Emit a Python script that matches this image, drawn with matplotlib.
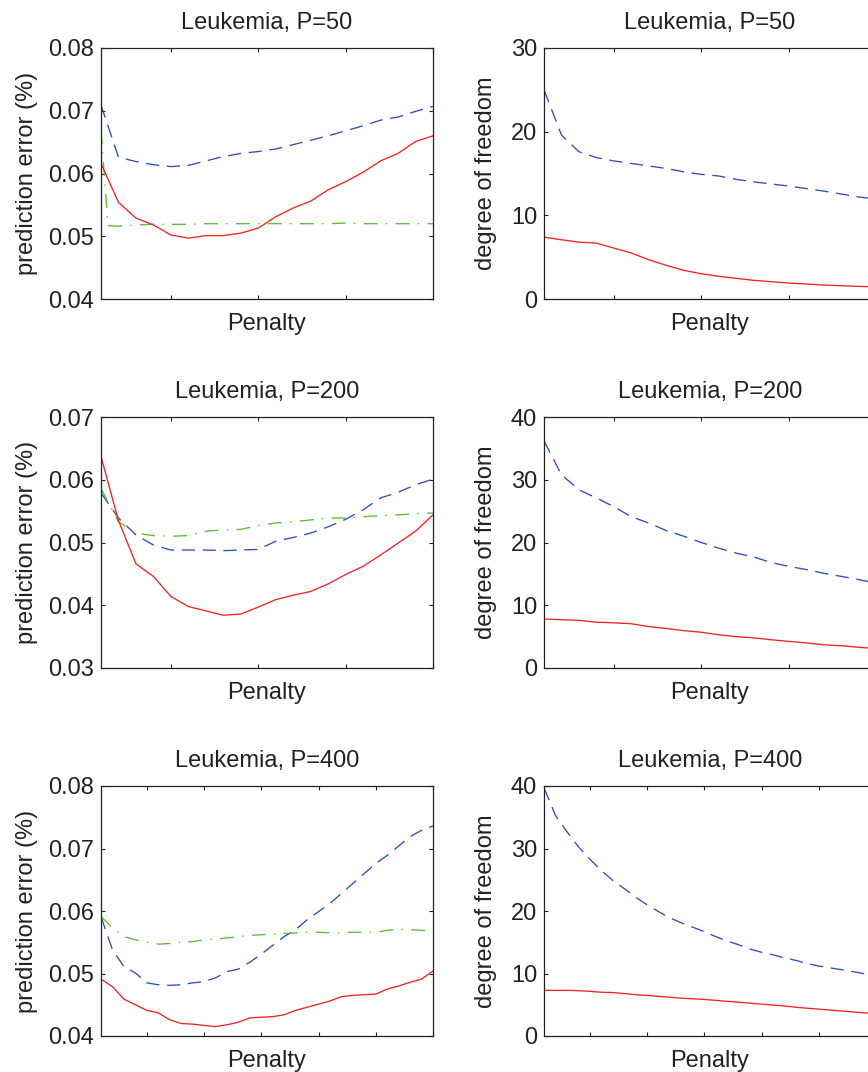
import matplotlib
matplotlib.use("Agg")
import matplotlib.pyplot as plt

plt.rcParams["font.family"] = ["Liberation Sans", "DejaVu Sans"]
plt.rcParams["font.size"] = 17
plt.rcParams["lines.scale_dashes"] = False

# penalty grids
PEN_A = [0.2, 0.4, 0.6, 0.8, 1.0, 1.2, 1.4, 1.6, 1.8, 2.0,
         2.2, 2.4, 2.6, 2.8, 3.0, 3.2, 3.4, 3.6, 3.8, 4.0]
PEN_A_GREEN = [0.2, 0.28, 0.4, 0.6, 0.8, 1.0, 1.2, 1.4, 1.6, 1.8, 2.0,
               2.2, 2.4, 2.6, 2.8, 3.0, 3.2, 3.4, 3.6, 3.8, 4.0]
PEN_B = [0.2, 0.4, 0.6, 0.8, 1.0, 1.2, 1.4, 1.6, 1.8, 2.0,
         2.2, 2.4, 2.6, 2.8, 3.0, 3.2, 3.4, 3.6, 3.8, 4.0,
         4.2, 4.4, 4.6, 4.8, 5.0, 5.2, 5.4, 5.6, 5.8, 6.0]

# P=50 prediction error
pe50_red = [0.0616, 0.0554, 0.0529, 0.0518, 0.0502, 0.0497, 0.0501, 0.0501, 0.0505, 0.0513,
            0.0531, 0.0545, 0.0556, 0.0574, 0.0587, 0.0602, 0.0620, 0.0632, 0.0651, 0.0660]
pe50_blue = [0.0709, 0.0626, 0.0619, 0.0614, 0.0611, 0.0613, 0.0620, 0.0627, 0.0632, 0.0635,
             0.0639, 0.0646, 0.0653, 0.0660, 0.0668, 0.0676, 0.0685, 0.0690, 0.0699, 0.0707]
pe50_green = [0.0669, 0.0517, 0.0516, 0.0518, 0.0519, 0.0519, 0.0519, 0.0520, 0.0520, 0.0520, 0.0520,
              0.0520, 0.0520, 0.0520, 0.0520, 0.0521, 0.0520, 0.0520, 0.0520, 0.0520, 0.0520]

# P=200 prediction error
pe200_red = [0.0637, 0.0535, 0.0466, 0.0446, 0.0414, 0.0398, 0.0391, 0.0384, 0.0386, 0.0397,
             0.0409, 0.0416, 0.0422, 0.0434, 0.0449, 0.0462, 0.0480, 0.0499, 0.0518, 0.0544]
pe200_blue = [0.0579, 0.0539, 0.0512, 0.0496, 0.0488, 0.0488, 0.0488, 0.0487, 0.0488, 0.0489,
              0.0502, 0.0508, 0.0515, 0.0525, 0.0537, 0.0552, 0.0571, 0.0580, 0.0592, 0.0601]
pe200_green = [0.0586, 0.0533, 0.0515, 0.0511, 0.0510, 0.0511, 0.0518, 0.0520, 0.0521, 0.0527,
               0.0531, 0.0533, 0.0536, 0.0539, 0.0539, 0.0541, 0.0543, 0.0544, 0.0546, 0.0547]

# P=400 prediction error
pe400_red = [0.0491, 0.0479, 0.0459, 0.0450, 0.0441, 0.0437, 0.0426, 0.0420, 0.0419, 0.0417,
             0.0415, 0.0418, 0.0422, 0.0429, 0.0430, 0.0431, 0.0434, 0.0441, 0.0446, 0.0451,
             0.0456, 0.0463, 0.0465, 0.0466, 0.0467, 0.0475, 0.0480, 0.0486, 0.0491, 0.0504]
pe400_blue = [0.0591, 0.0538, 0.0511, 0.0501, 0.0485, 0.0482, 0.0481, 0.0482, 0.0485, 0.0487,
              0.0493, 0.0503, 0.0507, 0.0518, 0.0531, 0.0545, 0.0559, 0.0570, 0.0586, 0.0599,
              0.0612, 0.0628, 0.0644, 0.0660, 0.0676, 0.0689, 0.0704, 0.0719, 0.0729, 0.0736]
pe400_green = [0.0591, 0.0573, 0.0559, 0.0554, 0.0550, 0.0547, 0.0548, 0.0550, 0.0551, 0.0554,
               0.0555, 0.0557, 0.0559, 0.0561, 0.0562, 0.0563, 0.0564, 0.0565, 0.0566, 0.0566,
               0.0565, 0.0565, 0.0566, 0.0566, 0.0566, 0.0569, 0.0571, 0.0570, 0.0569, 0.0568]

# degrees of freedom
df50_red = [7.39, 7.08, 6.80, 6.68, 6.08, 5.49, 4.69, 4.02, 3.42, 3.02,
            2.71, 2.47, 2.23, 2.07, 1.91, 1.79, 1.67, 1.59, 1.51, 1.45]
df50_blue = [25.0, 19.6, 17.6, 16.9, 16.5, 16.2, 15.9, 15.6, 15.2, 14.9,
             14.7, 14.3, 14.0, 13.75, 13.5, 13.2, 12.9, 12.55, 12.2, 11.95]
df200_red = [7.8, 7.7, 7.6, 7.3, 7.2, 7.05, 6.6, 6.3, 5.95, 5.7,
             5.3, 5.0, 4.8, 4.5, 4.25, 4.0, 3.7, 3.55, 3.3, 3.1]
df200_blue = [36.2, 30.8, 28.4, 27.1, 25.7, 24.1, 23.1, 21.9, 21.0, 20.0,
              19.1, 18.3, 17.7, 16.8, 16.2, 15.7, 15.1, 14.6, 14.1, 13.5]
df400_red = [7.3, 7.3, 7.3, 7.25, 7.15, 7.0, 6.95, 6.8, 6.6, 6.5,
             6.35, 6.2, 6.05, 5.95, 5.85, 5.7, 5.55, 5.4, 5.25, 5.1,
             4.95, 4.8, 4.6, 4.45, 4.3, 4.15, 4.0, 3.85, 3.7, 3.6]
df400_blue = [39.7, 35.3, 32.7, 30.3, 28.3, 26.5, 24.9, 23.6, 22.2, 21.0,
              19.9, 18.9, 18.1, 17.4, 16.7, 15.9, 15.2, 14.6, 13.9, 13.4,
              13.0, 12.5, 12.1, 11.6, 11.2, 10.9, 10.6, 10.3, 9.95, 9.65]

RED = "#ee2424"
BLUE = "#2c50b4"
GREEN = "#5cbd2c"
INK = "#222222"
LW = 0.95

W, H = 868, 1072
fig = plt.figure(figsize=(W / 100, H / 100), dpi=100)


def make_axes(left, top, bottom):
    return fig.add_axes([left / W, (H - bottom) / H, 332 / W, (bottom - top) / H])


def style(ax, title, ylabel, xlim, xticks, ylim, yticks, fmt, labelpad):
    ax.set_xlim(*xlim)
    ax.set_ylim(*ylim)
    ax.set_xticks(xticks)
    ax.set_xticklabels([])
    ax.set_yticks(yticks)
    ax.set_yticklabels([fmt.format(v) for v in yticks])
    ax.tick_params(direction="in", length=3, width=0.8, top=True, right=True,
                   colors=INK, labelsize=17, pad=5.0)
    for s in ax.spines.values():
        s.set_linewidth(0.9)
        s.set_color(INK)
    ax.set_title(title, pad=13.5, fontsize=17, color=INK)
    ax.set_ylabel(ylabel, labelpad=labelpad, color=INK)
    ax.set_xlabel("Penalty", labelpad=5, color=INK)


def red(ax, x, y):
    ax.plot(x, y, color=RED, lw=LW)


def blue(ax, x, y):
    ax.plot(x, y, color=BLUE, lw=LW, dashes=(9.5, 5.5))


def green(ax, x, y):
    ax.plot(x, y, color=GREEN, lw=LW, dashes=(10, 6, 1, 6))


rows = [(48, 299), (417, 668), (786, 1036)]

# left column: prediction error
ax = make_axes(101, *rows[0])
blue(ax, PEN_A, pe50_blue)
green(ax, PEN_A_GREEN, pe50_green)
red(ax, PEN_A, pe50_red)
style(ax, "Leukemia, P=50", "prediction error (%)", (0.2, 4.0), [1, 2, 3, 4],
      (0.04, 0.08), [0.04, 0.05, 0.06, 0.07, 0.08], "{:.2f}", 7)

ax = make_axes(101, *rows[1])
blue(ax, PEN_A, pe200_blue)
green(ax, PEN_A, pe200_green)
red(ax, PEN_A, pe200_red)
style(ax, "Leukemia, P=200", "prediction error (%)", (0.2, 4.0), [1, 2, 3, 4],
      (0.03, 0.07), [0.03, 0.04, 0.05, 0.06, 0.07], "{:.2f}", 7)

ax = make_axes(101, *rows[2])
blue(ax, PEN_B, pe400_blue)
green(ax, PEN_B, pe400_green)
red(ax, PEN_B, pe400_red)
style(ax, "Leukemia, P=400", "prediction error (%)", (0.2, 6.0), [1, 2, 3, 4, 5, 6],
      (0.04, 0.08), [0.04, 0.05, 0.06, 0.07, 0.08], "{:.2f}", 7)

# right column: degrees of freedom
ax = make_axes(544, *rows[0])
blue(ax, PEN_A, df50_blue)
red(ax, PEN_A, df50_red)
style(ax, "Leukemia, P=50", "degree of freedom", (0.2, 4.0), [1, 2, 3, 4],
      (0, 30), [0, 10, 20, 30], "{:d}", 10)

ax = make_axes(544, *rows[1])
blue(ax, PEN_A, df200_blue)
red(ax, PEN_A, df200_red)
style(ax, "Leukemia, P=200", "degree of freedom", (0.2, 4.0), [1, 2, 3, 4],
      (0, 40), [0, 10, 20, 30, 40], "{:d}", 10)

ax = make_axes(544, *rows[2])
blue(ax, PEN_B, df400_blue)
red(ax, PEN_B, df400_red)
style(ax, "Leukemia, P=400", "degree of freedom", (0.2, 6.0), [1, 2, 3, 4, 5, 6],
      (0, 40), [0, 10, 20, 30, 40], "{:d}", 10)

fig.savefig("out.png", dpi=100)
